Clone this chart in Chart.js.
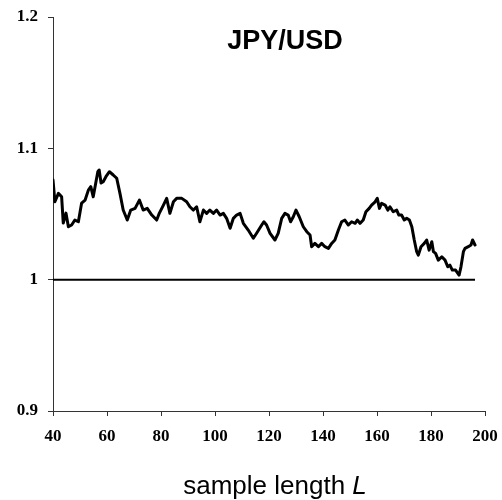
<!DOCTYPE html>
<html>
<head>
<meta charset="utf-8">
<script src="https://cdn.jsdelivr.net/npm/chart.js@4/dist/chart.umd.min.js"></script>
<style>
  html, body { margin: 0; padding: 0; background: #fff; }
  #wrap { width: 502px; height: 500px; position: relative; }
</style>
</head>
<body>
<div id="wrap"><canvas id="c" width="502" height="500"></canvas></div>
<script>
// ---- data ----
const titleText = "JPY/USD";
const xTitleText = "sample length ";
const xTitleItalic = "L";

const sampleLength = [
  40.0, 40.7, 42.0, 43.2, 43.8, 44.8, 45.7, 46.9, 48.1, 49.4,
  50.6, 51.9, 53.1, 54.0, 54.9, 55.8, 56.6, 57.1, 57.8, 58.6,
  59.6, 60.9, 62.3, 63.6, 64.8, 66.0, 67.5, 68.8, 70.4, 72.0,
  73.4, 74.9, 76.6, 78.4, 79.4, 80.9, 82.1, 83.3, 84.6, 85.8,
  87.7, 89.5, 90.7, 92.0, 93.2, 94.4, 95.7, 96.9, 98.1, 99.4,
  100.6, 101.9, 103.1, 104.3, 105.6, 106.8, 108.0, 109.3, 110.5, 112.3,
  114.2, 115.4, 117.3, 118.1, 119.1, 120.4, 122.2, 123.4, 124.7, 125.9,
  127.1, 128.0, 129.0, 130.0, 131.2, 132.7, 134.0, 135.2, 135.8, 137.0,
  138.3, 139.5, 140.7, 142.0, 143.2, 144.4, 145.7, 146.9, 148.1, 149.4,
  150.6, 151.9, 152.7, 153.7, 154.9, 155.9, 157.1, 158.0, 159.3, 160.1,
  160.9, 161.7, 163.0, 164.0, 164.8, 166.0, 167.3, 168.1, 169.1, 170.1,
  171.0, 172.0, 172.9, 173.8, 174.7, 175.3, 176.3, 177.5, 178.4, 179.3,
  180.3, 180.9, 181.7, 182.7, 184.0, 185.2, 186.2, 187.0, 187.9, 189.1,
  190.4, 191.1, 192.0, 192.6, 193.8, 194.8, 195.4, 196.3
];
const ratio = [
  1.0759, 1.0593, 1.0657, 1.0631, 1.0431, 1.0507, 1.0403, 1.0416, 1.0454, 1.0441,
  1.0583, 1.0606, 1.0682, 1.0708, 1.0631, 1.0733, 1.0822, 1.0835, 1.0736, 1.0746,
  1.0784, 1.0822, 1.0797, 1.0772, 1.0657, 1.0530, 1.0454, 1.0530, 1.0543, 1.0606,
  1.0530, 1.0543, 1.0492, 1.0454, 1.0507, 1.0568, 1.0619, 1.0505, 1.0593, 1.0619,
  1.0619, 1.0593, 1.0555, 1.0530, 1.0555, 1.0441, 1.0530, 1.0505, 1.0530, 1.0505,
  1.0530, 1.0492, 1.0505, 1.0467, 1.0391, 1.0467, 1.0492, 1.0505, 1.0429, 1.0378,
  1.0315, 1.0353, 1.0416, 1.0441, 1.0416, 1.0353, 1.0302, 1.0353, 1.0467, 1.0505,
  1.0492, 1.0441, 1.0479, 1.0530, 1.0479, 1.0403, 1.0365, 1.0340, 1.0251, 1.0276,
  1.0251, 1.0276, 1.0251, 1.0238, 1.0276, 1.0302, 1.0378, 1.0441, 1.0454, 1.0416,
  1.0441, 1.0429, 1.0454, 1.0429, 1.0454, 1.0517, 1.0543, 1.0568, 1.0593, 1.0619,
  1.0543, 1.0581, 1.0568, 1.0530, 1.0555, 1.0517, 1.0530, 1.0492, 1.0492, 1.0454,
  1.0467, 1.0454, 1.0403, 1.0302, 1.0213, 1.0187, 1.0251, 1.0276, 1.0302, 1.0225,
  1.0289, 1.0213, 1.0200, 1.0149, 1.0174, 1.0149, 1.0098, 1.0111, 1.0073, 1.0073,
  1.0035, 1.0098, 1.0213, 1.0238, 1.0251, 1.0264, 1.0302, 1.0264
];
const referenceLevel = 1;
const xMin = 40, xMax = 200, xStep = 20;
const yMin = 0.9, yMax = 1.2, yStep = 0.1;

// ---- build ----
const mainPoints = sampleLength.map((x, i) => ({ x: x, y: ratio[i] }));
const refPoints = [
  { x: sampleLength[0], y: referenceLevel },
  { x: sampleLength[sampleLength.length - 1], y: referenceLevel }
];

const tickFont = { family: "'Liberation Serif', 'Times New Roman', serif", size: 17, weight: 'bold' };

const overlayText = {
  id: 'overlayText',
  afterDraw(chart) {
    const ctx = chart.ctx;
    ctx.save();
    ctx.fillStyle = '#000';
    ctx.textBaseline = 'alphabetic';
    // title inside plot
    ctx.font = "bold 27px 'Liberation Sans', Arial, sans-serif";
    ctx.textAlign = 'center';
    ctx.fillText(titleText, 285, 49);
    // x axis title with italic L
    const f1 = "26px 'Liberation Sans', Arial, sans-serif";
    const f2 = "italic 26px 'Liberation Sans', Arial, sans-serif";
    ctx.font = f1;
    const w1 = ctx.measureText(xTitleText).width;
    ctx.font = f2;
    const w2 = ctx.measureText(xTitleItalic).width;
    const cx = 275;
    const startX = cx - (w1 + w2) / 2;
    ctx.textAlign = 'left';
    ctx.font = f1;
    ctx.fillText(xTitleText, startX, 494);
    ctx.font = f2;
    ctx.fillText(xTitleItalic, startX + w1, 494);
    ctx.restore();
  }
};

new Chart(document.getElementById('c'), {
  type: 'line',
  data: {
    datasets: [
      {
        data: refPoints,
        borderColor: '#000',
        borderWidth: 2,
        pointRadius: 0,
        fill: false,
        tension: 0
      },
      {
        data: mainPoints,
        borderColor: '#000',
        borderWidth: 3,
        pointRadius: 0,
        fill: false,
        tension: 0,
        borderJoinStyle: 'round',
        borderCapStyle: 'round'
      }
    ]
  },
  options: {
    responsive: false,
    animation: false,
    events: [],
    layout: { padding: { top: 17, right: 17, left: 0, bottom: 0 } },
    plugins: { legend: { display: false }, tooltip: { enabled: false }, title: { display: false } },
    scales: {
      x: {
        type: 'linear',
        min: xMin, max: xMax,
        afterFit(scale) { scale.height = 89; scale.paddingLeft = 0; scale.paddingRight = 0; },
        border: { display: true, color: '#333', width: 1 },
        grid: { display: true, drawOnChartArea: false, drawTicks: true, tickLength: 5, color: '#333' },
        ticks: { stepSize: xStep, color: '#000', font: tickFont, padding: 10, maxRotation: 0, autoSkip: false }
      },
      y: {
        min: yMin, max: yMax,
        afterFit(scale) { scale.width = 53; scale.paddingTop = 0; scale.paddingBottom = 0; },
        border: { display: true, color: '#333', width: 1 },
        grid: { display: true, drawOnChartArea: false, drawTicks: true, tickLength: 5, color: '#333' },
        ticks: {
          stepSize: yStep, color: '#000', font: tickFont, padding: 10,
          callback: (v) => String(Number(v.toFixed(1)))
        }
      }
    }
  },
  plugins: [overlayText]
});
</script>
</body>
</html>
